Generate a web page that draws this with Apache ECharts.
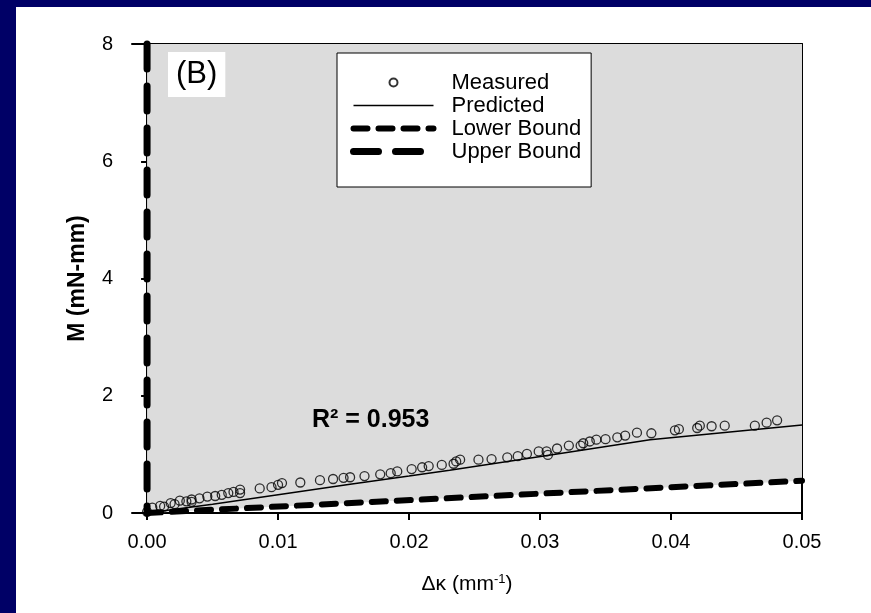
<!DOCTYPE html>
<html lang="en">
<head>
    <meta charset="UTF-8">
    <title>M vs curvature (B)</title>
    <style>
        body { margin: 0; background: #000066; }
        #panel { position: absolute; left: 16px; top: 7px; width: 855px; height: 606px; background: #fff; }
        #chart { position: absolute; left: 0; top: 0; width: 871px; height: 613px; }
    </style>
</head>
<body>
    <div id="panel"></div>
    <div id="chart"></div>
    <script src="https://cdn.jsdelivr.net/npm/echarts@6/dist/echarts.min.js"></script>
    <script type="text/javascript">
        // measured points [dk, M]
        var measured = [
            [0.0000, 0.02], [0.0004, 0.09], [0.0010, 0.12], [0.0013, 0.11], [0.0018, 0.17],
            [0.0021, 0.15], [0.0025, 0.21], [0.0030, 0.20], [0.0034, 0.19], [0.0034, 0.23],
            [0.0040, 0.25], [0.0046, 0.28], [0.0052, 0.29], [0.0057, 0.31], [0.0062, 0.34],
            [0.0066, 0.36], [0.0071, 0.34], [0.0071, 0.40], [0.0086, 0.42], [0.0095, 0.44],
            [0.0100, 0.48], [0.0103, 0.51], [0.0117, 0.52], [0.0132, 0.56], [0.0142, 0.58],
            [0.0150, 0.60], [0.0155, 0.61], [0.0166, 0.63], [0.0178, 0.66], [0.0186, 0.68],
            [0.0191, 0.71], [0.0202, 0.75], [0.0210, 0.78], [0.0215, 0.80], [0.0225, 0.82],
            [0.0234, 0.84], [0.0236, 0.88], [0.0239, 0.91], [0.0253, 0.91], [0.0263, 0.92],
            [0.0275, 0.95], [0.0283, 0.97], [0.0290, 1.01], [0.0299, 1.05], [0.0305, 1.05],
            [0.0306, 0.99], [0.0313, 1.10], [0.0322, 1.15], [0.0331, 1.15], [0.0333, 1.19],
            [0.0338, 1.22], [0.0343, 1.25], [0.0350, 1.26], [0.0359, 1.29], [0.0365, 1.32],
            [0.0374, 1.37], [0.0385, 1.36], [0.0403, 1.41], [0.0406, 1.43], [0.0420, 1.45],
            [0.0422, 1.49], [0.0431, 1.48], [0.0441, 1.49], [0.0464, 1.49], [0.0473, 1.54],
            [0.0481, 1.58]
        ];
        var predicted = [
            [0, 0], [0.005, 0.15], [0.010, 0.31], [0.0155, 0.49], [0.020, 0.63],
            [0.0231, 0.73], [0.0308, 0.99], [0.0384, 1.25], [0.050, 1.50]
        ];
        var lowerBound = [[0, 0], [0.05, 0.55]];
        var upperBound = [[0, 8], [0, 0]];   // drawn from the top down
        var xTicks = [0, 0.01, 0.02, 0.03, 0.04, 0.05];
        var xMin = -0.00115, xMax = 0.05, yMin = 0, yMax = 8;

        var font = "'Liberation Sans', Arial, sans-serif";
        var lowerStyle = { color: '#000', width: 6, type: [14, 11], cap: 'round' };
        var upperStyle = { color: '#000', width: 7, type: [25, 17], cap: 'round' };
        var predStyle = { color: '#000', width: 1.5 };
        var noDot = { color: 'rgba(0,0,0,0)', borderWidth: 0 };

        var chart = echarts.init(document.getElementById('chart'));

        chart.setOption({
            animation: false,
            textStyle: { fontFamily: font, color: '#000' },
            title: {
                text: '(B)',
                left: 168, top: 52,
                backgroundColor: '#fff',
                padding: [7, 8, 7, 8],
                textStyle: { fontSize: 31, fontWeight: 'normal', fontFamily: font, color: '#000' }
            },
            grid: { left: 132, right: 69, top: 44, bottom: 100 },
            legend: {
                orient: 'vertical',
                left: 337, top: 53,
                data: [
                    { name: 'Measured' },
                    { name: 'Predicted', lineStyle: predStyle, itemStyle: noDot },
                    { name: 'Lower Bound', lineStyle: lowerStyle, itemStyle: noDot },
                    { name: 'Upper Bound', lineStyle: upperStyle, itemStyle: noDot }
                ],
                itemWidth: 80, itemHeight: 8, itemGap: 0,
                padding: [18, 10, 24, 13],
                backgroundColor: '#fff',
                borderColor: '#000', borderWidth: 1,
                textStyle: { fontSize: 22, lineHeight: 23, fontFamily: font, color: '#000', padding: [0, 0, 0, 13] }
            },
            xAxis: [
                {
                    type: 'value',
                    min: xMin, max: xMax,
                    name: 'Δκ (mm{sup|-1})',
                    nameLocation: 'middle',
                    nameGap: 60,
                    nameTextStyle: {
                        fontSize: 21, fontFamily: font, color: '#000',
                        rich: { sup: { fontSize: 13, verticalAlign: 'top', padding: [0, 0, 10, 0], fontFamily: font, color: '#000' } }
                    },
                    axisLine: { lineStyle: { color: '#000', width: 2 } },
                    axisTick: { length: 7, lineStyle: { color: '#000', width: 2 }, customValues: xTicks },
                    axisLabel: {
                        fontSize: 20, color: '#000', margin: 19, customValues: xTicks,
                        formatter: function (v) { return v.toFixed(2); }
                    },
                    splitLine: { show: false }
                },
                {
                    // top frame line
                    type: 'value', position: 'top',
                    min: xMin, max: xMax,
                    axisLine: { show: true, onZero: false, lineStyle: { color: '#000', width: 2 } },
                    axisTick: { show: false }, axisLabel: { show: false }, splitLine: { show: false }
                }
            ],
            yAxis: [
                {
                    type: 'value',
                    min: yMin, max: yMax, interval: 2,
                    name: 'M (mN-mm)',
                    nameLocation: 'middle',
                    nameGap: 43,
                    nameTextStyle: { fontSize: 23, fontWeight: 'bold', fontFamily: font, color: '#000' },
                    axisLine: { lineStyle: { color: '#000', width: 2 } },
                    axisTick: { length: 6, lineStyle: { color: '#000', width: 2 } },
                    axisLabel: { fontSize: 20, color: '#000', margin: 19 },
                    splitLine: { show: false }
                },
                {
                    // right frame line
                    type: 'value', position: 'right',
                    min: yMin, max: yMax,
                    axisLine: { show: true, onZero: false, lineStyle: { color: '#000', width: 2 } },
                    axisTick: { show: false }, axisLabel: { show: false }, splitLine: { show: false }
                }
            ],
            graphic: [
                {
                    type: 'text', left: 312, top: 408, z: 10,
                    style: { text: 'R² = 0.953', fontSize: 25, fontWeight: 'bold', fontFamily: font, fill: '#000' }
                }
            ],
            series: [
                {
                    // grey region between the two bounds
                    type: 'custom',
                    silent: true,
                    z: 1,
                    data: [[0, 0]],
                    renderItem: function (params, api) {
                        var pts = [];
                        lowerBound.forEach(function (p) { pts.push(api.coord(p)); });
                        pts.push(api.coord([xMax, yMax]));
                        upperBound.forEach(function (p) { pts.push(api.coord(p)); });
                        return { type: 'polygon', shape: { points: pts }, style: { fill: '#dcdcdc' } };
                    }
                },
                {
                    name: 'Lower Bound',
                    type: 'line',
                    data: lowerBound,
                    symbol: 'none',
                    lineStyle: lowerStyle
                },
                {
                    name: 'Upper Bound',
                    type: 'line',
                    data: upperBound,
                    symbol: 'none',
                    clip: false,
                    lineStyle: upperStyle
                },
                {
                    name: 'Predicted',
                    type: 'line',
                    data: predicted,
                    symbol: 'none',
                    lineStyle: predStyle
                },
                {
                    name: 'Measured',
                    type: 'scatter',
                    data: measured,
                    symbol: 'circle',
                    symbolSize: 9,
                    itemStyle: { color: 'rgba(0,0,0,0)', borderColor: '#000', borderWidth: 1.3 }
                }
            ]
        });
    </script>
</body>
</html>
